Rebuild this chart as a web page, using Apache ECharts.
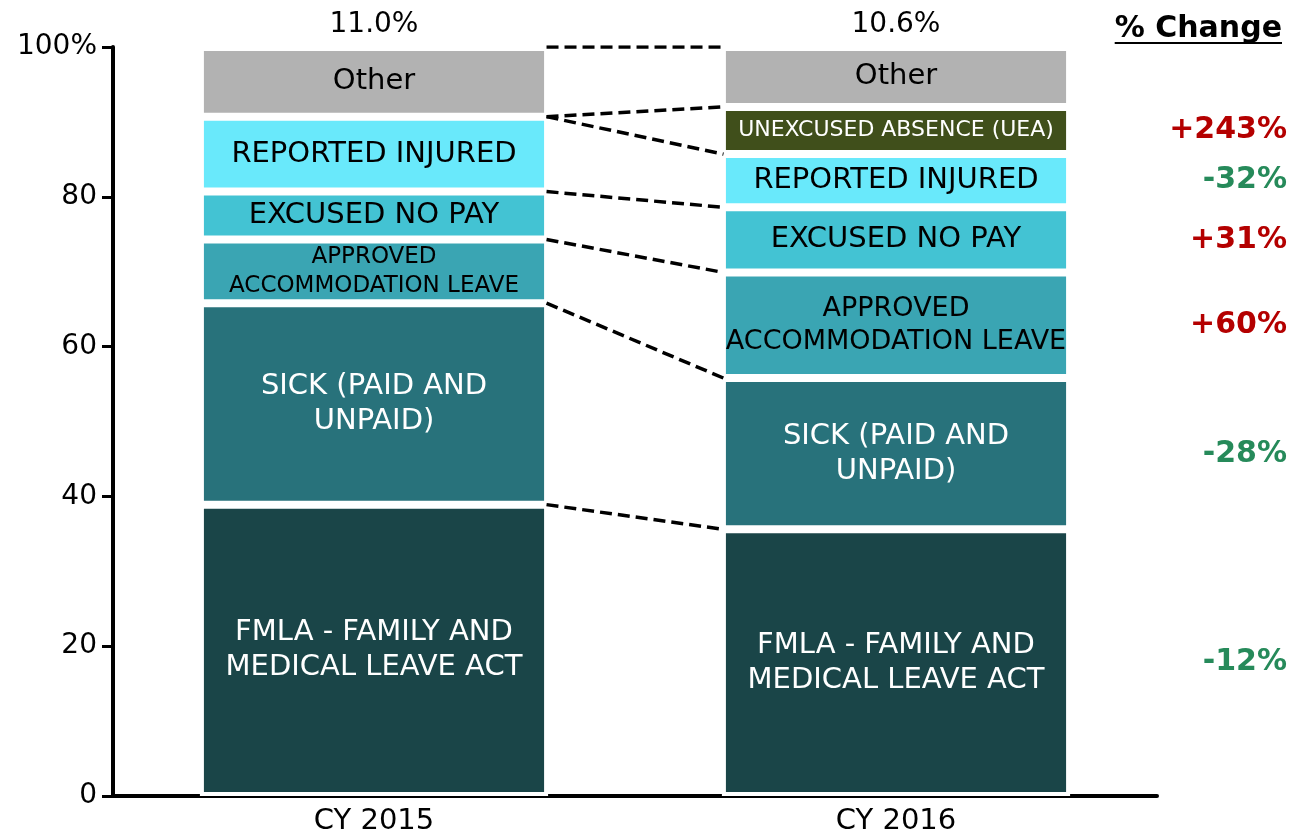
<!DOCTYPE html>
<html>
<head>
<meta charset="utf-8">
<script src="https://cdn.jsdelivr.net/npm/echarts@6/dist/echarts.min.js"></script>
<style>html,body{margin:0;padding:0;background:#fff;}#c{width:1290px;height:836px;}</style>
</head>
<body>
<div id="c"></div>
<script>
// ---- data ----
const categories = ['CY 2015', 'CY 2016'];
const totals = ['11.0%', '10.6%'];
const segNames = ['FMLA - FAMILY AND\nMEDICAL LEAVE ACT', 'SICK (PAID AND\nUNPAID)', 'APPROVED\nACCOMMODATION LEAVE', 'EXCUSED NO PAY', 'REPORTED INJURED', 'UNEXCUSED ABSENCE (UEA)', 'Other'];
const fmla = [38.9, 35.6];
const sick = [26.9, 20.2];
const approved = [8.5, 14.1];
const excused = [6.4, 8.7];
const reported = [10.0, 7.1];
const uea = [null, 6.3];
const other = [9.3, 8.0];
const changes = ['-12%', '-28%', '+60%', '+31%', '-32%', '+243%', null];
const yTickValues = [0, 20, 40, 60, 80, 100];

// ---- styles ----
const FONT = 'DejaVu Sans';
const colors = ['#1a4548', '#28727b', '#3aa5b3', '#43c3d3', '#69e9fb', '#404f1b', '#b2b2b2'];
const textColors = ['#fff', '#fff', '#000', '#000', '#000', '#fff', '#000'];
const fontSizes = [[29, 29], [29, 29], [23, 27], [29, 29], [29, 29], [22, 22], [29, 29]];
const lineHeights = [[35, 35], [35, 35], [29, 33], [35, 35], [35, 35], [28, 28], [35, 35]];
const BAR_FRAC = 0.667;
const CHANGE_X = 2.249;
const RED = '#b40000', GREEN = '#268a5a';

const segData = [fmla, sick, approved, excused, reported, uea, other];

const series = [];
segData.forEach((arr, k) => {
  series.push({
    type: 'bar', name: segNames[k], stack: 'total', xAxisIndex: 0, yAxisIndex: 0,
    barWidth: (BAR_FRAC * 100) + '%',
    itemStyle: { color: colors[k], borderColor: '#fff', borderWidth: 4 },
    label: { show: true, position: 'inside', formatter: segNames[k], color: textColors[k], fontFamily: FONT },
    data: arr.map((v, i) => v == null ? '-' : {
      value: v,
      label: { fontSize: fontSizes[k][i], lineHeight: lineHeights[k][i] }
    }),
    animation: false
  });
});

// cumulative tops
function cumTops(i) {
  let s = 0; return segData.map(a => { s += (a[i] || 0); return s; });
}
const cum0 = cumTops(0), cum1 = cumTops(1);
const leftEdge = 0.5 + (BAR_FRAC - 0.006) / 2, rightEdge = 1.5 - (BAR_FRAC - 0.006) / 2;
cum0.forEach((y0, k) => {
  series.push({
    type: 'line', xAxisIndex: 1, yAxisIndex: 0, symbol: 'none', silent: true, animation: false,
    lineStyle: { color: '#000', width: 3.5, type: [12, 6] },
    data: [[leftEdge, y0], [rightEdge, cum1[k]]]
  });
});

// change labels at 2016 segment centres
const changeData = [];
segData.forEach((a, k) => {
  if (changes[k] == null) return;
  const c = cum1[k] - a[1] / 2;
  changeData.push({ value: [CHANGE_X, c], name: changes[k], label: { color: changes[k][0] === '+' ? RED : GREEN } });
});
series.push({
  type: 'scatter', xAxisIndex: 1, yAxisIndex: 0, symbolSize: 0, clip: false, silent: true, animation: false,
  itemStyle: { opacity: 1 },
  label: { show: true, position: 'left', distance: 0, fontFamily: FONT, fontWeight: 'bold', fontSize: 30,
    formatter: p => p.name },
  data: changeData
});

// totals above bars
series.push({
  type: 'scatter', xAxisIndex: 1, yAxisIndex: 0, symbolSize: 0, clip: false, silent: true, animation: false,
  itemStyle: { opacity: 1 },
  label: { show: true, position: 'top', distance: 8, fontFamily: FONT, fontSize: 28, color: '#000',
    formatter: p => totals[p.dataIndex] },
  data: categories.map((c, i) => [i + 0.5, 100])
});

// header text width
const ctx = document.createElement('canvas').getContext('2d');
ctx.font = 'bold 30px "DejaVu Sans"';
const hdrW = ctx.measureText('% Change').width;

const chart = echarts.init(document.getElementById('c'), null, { renderer: 'canvas' });
chart.setOption({
  backgroundColor: '#fff',
  animation: false,
  grid: { left: 113, right: 133, top: 47, bottom: 39, containLabel: false },
  xAxis: [
    { type: 'category', data: categories, boundaryGap: true,
      axisLine: { lineStyle: { color: '#000', width: 4 } }, axisTick: { show: false },
      axisLabel: { fontFamily: FONT, fontSize: 29, color: '#000', margin: 11 } },
    { type: 'value', min: 0, max: 2, show: false }
  ],
  yAxis: [{
    type: 'value', min: 0, max: 100, interval: 20,
    axisLine: { show: true, lineStyle: { color: '#000', width: 4 } },
    axisTick: { show: true, length: 11, lineStyle: { color: '#000', width: 3 } },
    splitLine: { show: false },
    axisLabel: { fontFamily: FONT, fontSize: 28, color: '#000', margin: 16,
      formatter: v => yTickValues.indexOf(v) < 0 ? '' : (v === 100 ? v + '%' : String(v)) }
  }],
  graphic: [
    { type: 'text', right: 8, top: 14, style: { text: '% Change', font: 'bold 30px "DejaVu Sans"', fill: '#000' } },
    { type: 'line', shape: { x1: 1282 - hdrW, y1: 43, x2: 1282, y2: 43 }, style: { stroke: '#000', lineWidth: 2 } }
  ],
  series: series
});
</script>
</body>
</html>
